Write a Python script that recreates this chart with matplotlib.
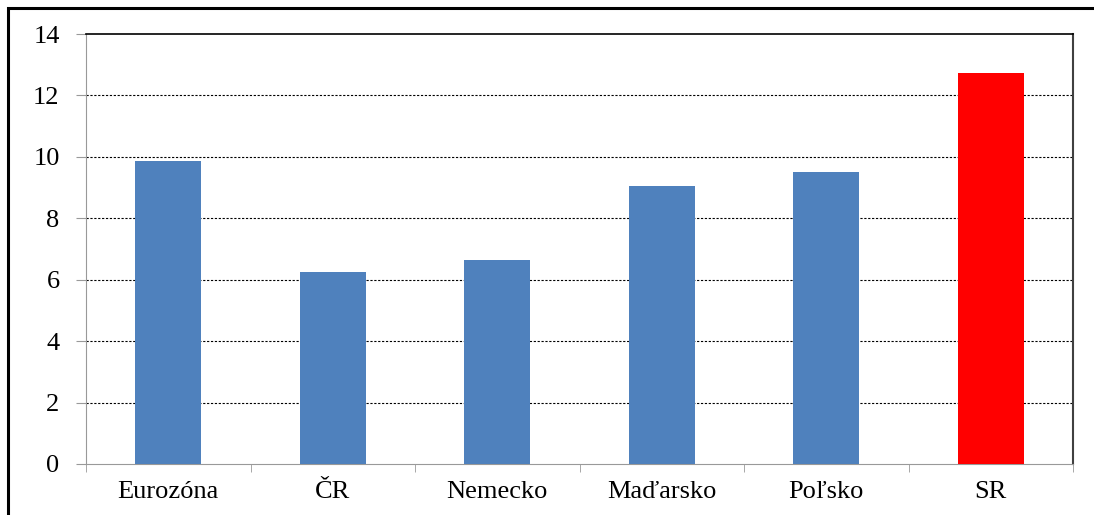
import matplotlib
matplotlib.use("Agg")
import matplotlib.pyplot as plt
from matplotlib.patches import Rectangle

categories = ["Eurozóna", "ČR", "Nemecko", "Maďarsko", "Poľsko", "SR"]
values = [9.85, 6.25, 6.65, 9.05, 9.5, 12.72]
colors = ["#4F81BD", "#4F81BD", "#4F81BD", "#4F81BD", "#4F81BD", "#FF0000"]
yticks = [0, 2, 4, 6, 8, 10, 12, 14]

plt.rcParams['font.family'] = ['Liberation Serif', 'DejaVu Serif']

W, H = 1094, 515
fig = plt.figure(figsize=(W/100, H/100), dpi=100)
ax = fig.add_axes([86/W, 1-464/H, (1073-86)/W, (464-34)/H])

x = list(range(len(categories)))
ax.bar(x, values, width=0.4, color=colors, zorder=3)
ax.set_xlim(-0.5, len(categories)-0.5)
ax.set_ylim(0, 14)
ax.set_yticks(yticks)
ax.set_yticklabels([str(v) for v in yticks], fontsize=19)
ax.set_xticks(x)
ax.set_xticklabels(categories, fontsize=19)
ax.tick_params(axis='x', length=0, pad=12)
ax.set_xticks([i + 0.5 for i in range(-1, len(categories))], minor=True)
ax.tick_params(axis='x', which='minor', length=6, color='#999999', direction='out')
ax.tick_params(axis='y', length=7, color='#999999', direction='out', pad=12)

for yv in yticks[1:-1]:
    ax.axhline(yv, color='black', linestyle=(0, (2, 1.5)), linewidth=0.8, zorder=1)

ax.spines['top'].set_color('black')
ax.spines['top'].set_linewidth(1.2)
ax.spines['right'].set_color('#404040')
ax.spines['right'].set_linewidth(1.5)
ax.spines['left'].set_color('#999999')
ax.spines['bottom'].set_color('#999999')

fig.patches.append(Rectangle((8/W, -0.05), 1.1, 1 - 8/H + 0.05, transform=fig.transFigure,
                             fill=False, edgecolor='black', linewidth=2.2))

fig.savefig("out.png", dpi=100)
